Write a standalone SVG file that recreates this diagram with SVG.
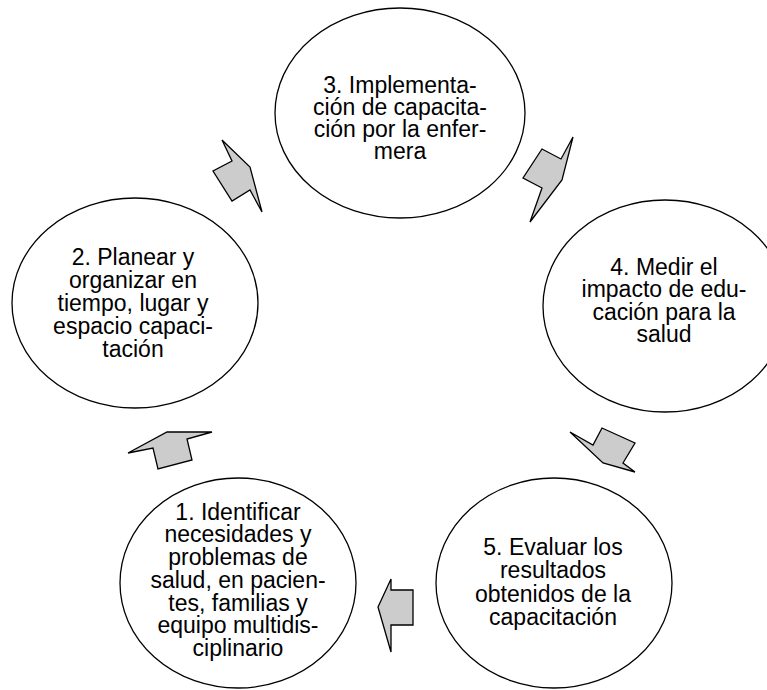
<svg xmlns="http://www.w3.org/2000/svg" width="767" height="690" viewBox="0 0 767 690">
<style>
.node ellipse{fill:#fff;stroke:#000;stroke-width:1.3}
.node text{font-family:"Liberation Sans",Arial,sans-serif;font-size:23px;fill:#000;text-anchor:middle}
.arrow{fill:#cccccc;stroke:#000;stroke-width:1.3;stroke-linejoin:miter}
</style>
<rect width="767" height="690" fill="#fff"/>
<g id="node3" class="node">
<ellipse cx="400" cy="113" rx="125" ry="105"/>
<text x="400" y="93">3. Implementa-</text>
<text x="400" y="115">ción de capacita-</text>
<text x="400" y="137">ción por la enfer-</text>
<text x="400" y="159">mera</text>
</g>
<g id="node2" class="node">
<ellipse cx="135" cy="303" rx="123" ry="105"/>
<text x="133" y="265">2. Planear y</text>
<text x="133" y="288">organizar en</text>
<text x="133" y="311">tiempo, lugar y</text>
<text x="133" y="334">espacio capaci-</text>
<text x="133" y="357">tación</text>
</g>
<g id="node4" class="node">
<ellipse cx="665" cy="306" rx="122" ry="106"/>
<text x="664" y="275">4. Medir el</text>
<text x="664" y="297">impacto de edu-</text>
<text x="664" y="320">cación para la</text>
<text x="664" y="342">salud</text>
</g>
<g id="node1" class="node">
<ellipse cx="238" cy="583" rx="118" ry="105"/>
<text x="238" y="520">1. Identificar</text>
<text x="238" y="542">necesidades y</text>
<text x="238" y="565">problemas de</text>
<text x="238" y="588">salud, en pacien-</text>
<text x="238" y="611">tes, familias y</text>
<text x="238" y="633">equipo multidis-</text>
<text x="238" y="656">ciplinario</text>
</g>
<g id="node5" class="node">
<ellipse cx="554" cy="583" rx="118" ry="105"/>
<text x="553" y="555">5. Evaluar los</text>
<text x="553" y="578">resultados</text>
<text x="553" y="602">obtenidos de la</text>
<text x="553" y="625">capacitación</text>
</g>
<g id="connectors">
<polygon class="arrow" points="128,453 153,448 158,469 192,460 187,439 212,432 167,432"/>
<polygon class="arrow" points="222,140 250,167 262,212 250,190 232,201 213,171 232,161"/>
<polygon class="arrow" points="573,137 561,159 542,149 523,178 542,188 530,222 562,180"/>
<polygon class="arrow" points="570,432 593,445 602,428 635,443 623,463 635,472 603,463"/>
<polygon class="arrow" points="391,579 391,590 413,590 413,625 391,625 391,652 378,607"/>
</g>
</svg>
